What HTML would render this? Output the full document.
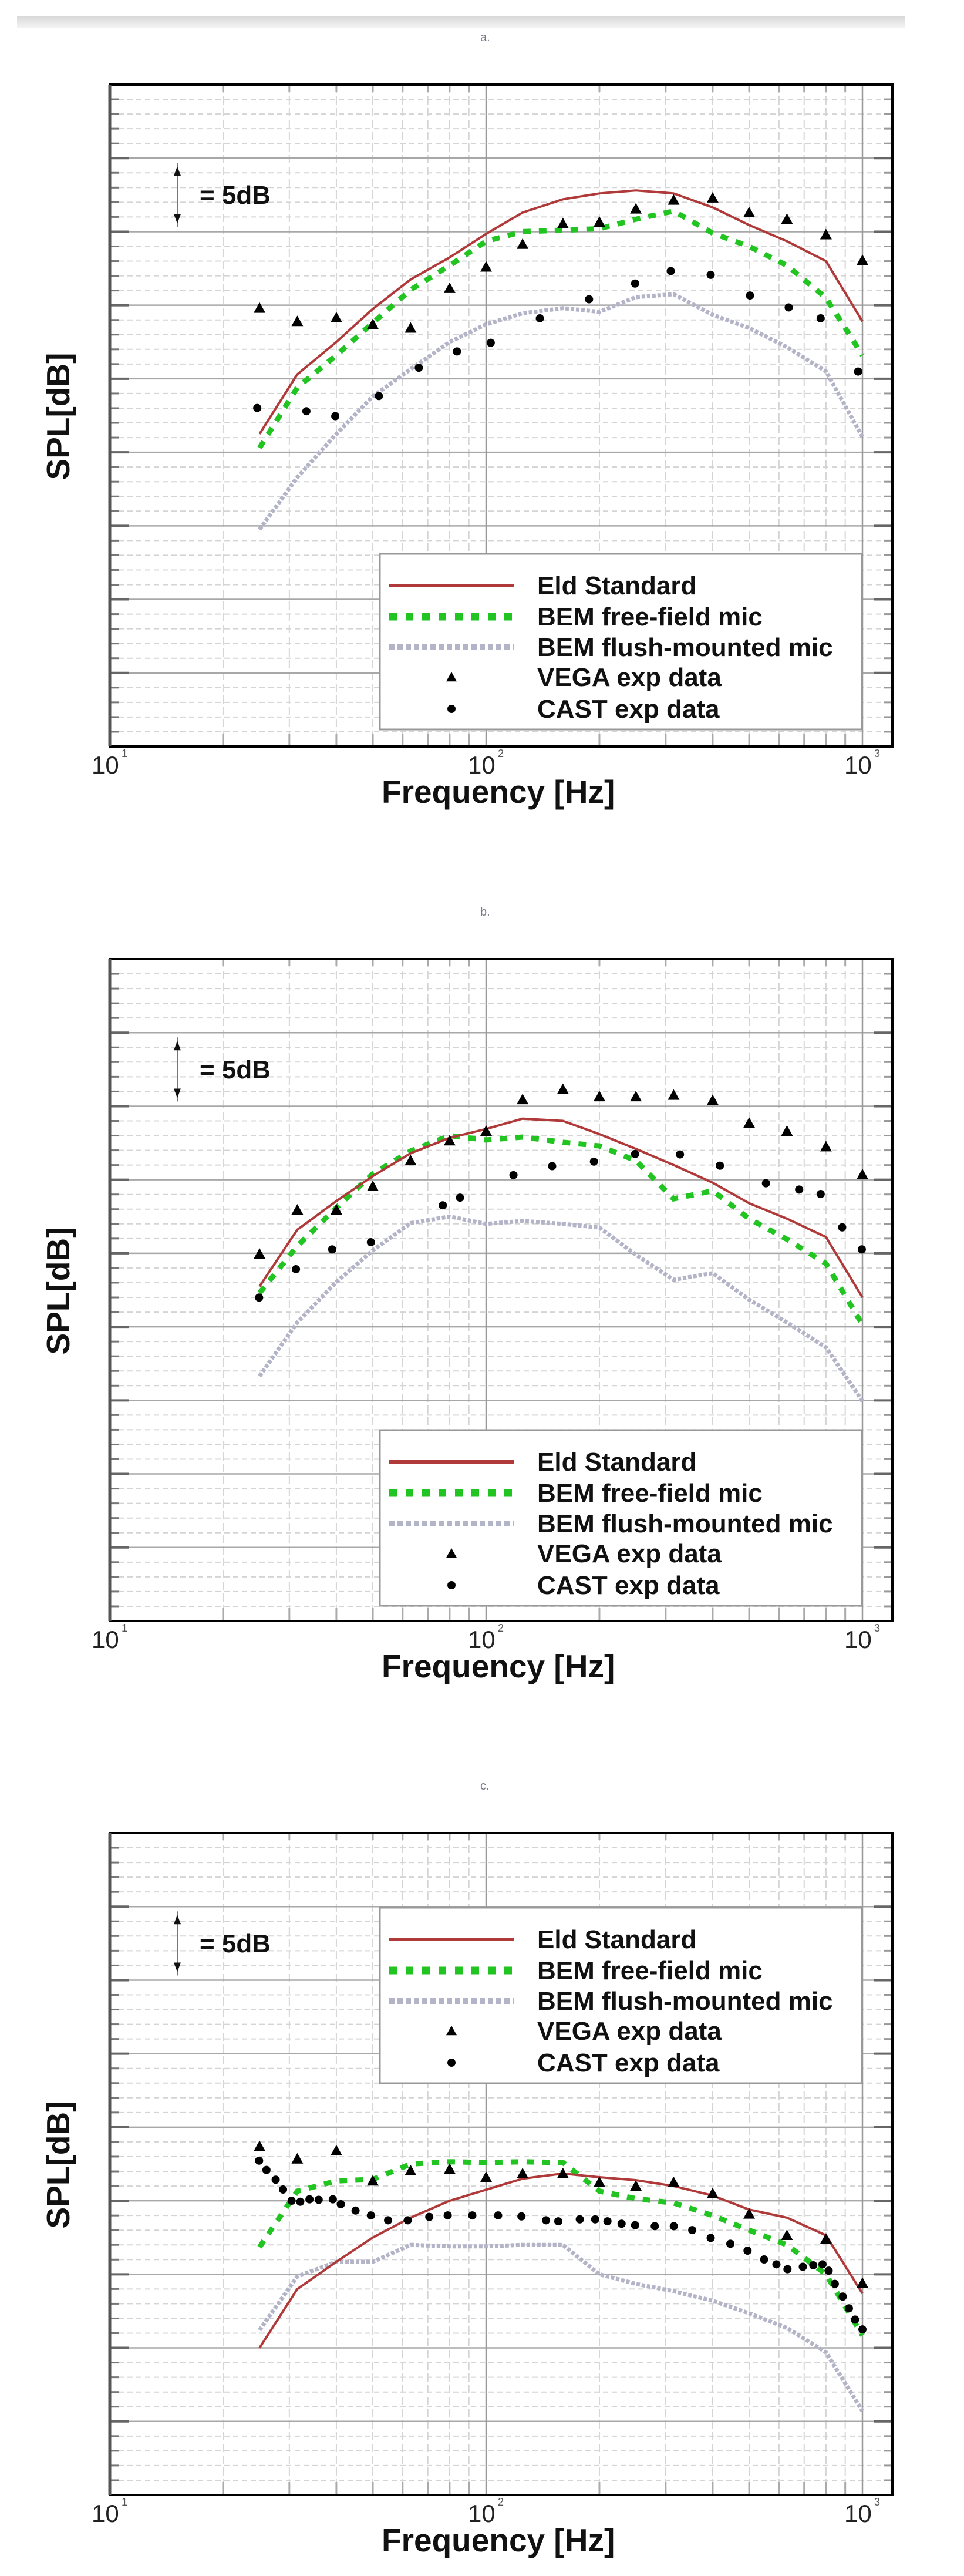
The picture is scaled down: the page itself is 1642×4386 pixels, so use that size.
<!DOCTYPE html>
<html><head><meta charset="utf-8">
<style>
html,body{margin:0;padding:0;background:#fff;}
svg{display:block;}
text{font-family:"Liberation Sans",Arial,sans-serif;}
.b{font-weight:bold;fill:#111;}
</style></head>
<body>
<svg id="s" width="1642" height="4386" viewBox="0 0 1642 4386" xmlns="http://www.w3.org/2000/svg">
<defs><linearGradient id="gb" x1="0" y1="0" x2="0" y2="1"><stop offset="0" stop-color="#d8d8d8"/><stop offset="1" stop-color="#f3f3f3"/></linearGradient></defs>
<rect x="29" y="27" width="1513" height="20" fill="url(#gb)"/>
<g id="grids"></g>
<g id="data"></g>
<!-- labels chart a -->
<text x="818" y="70" font-size="20" fill="#778" font-family="Liberation Serif,serif">a.</text>
<text x="818" y="1559" font-size="20" fill="#778" font-family="Liberation Serif,serif">b.</text>
<text x="818" y="3047" font-size="20" fill="#778" font-family="Liberation Serif,serif">c.</text>

<g id="lab_a" transform="translate(0,144)">
<text x="340" y="203" font-size="44" class="b">= 5dB</text>
<text x="156" y="1173" font-size="42" fill="#222">10</text><text x="207" y="1145" font-size="18" fill="#555">1</text>
<text x="797" y="1173" font-size="42" fill="#222">10</text><text x="848" y="1145" font-size="18" fill="#555">2</text>
<text x="1438" y="1173" font-size="42" fill="#222">10</text><text x="1489" y="1145" font-size="18" fill="#555">3</text>
<text x="650" y="1223" font-size="55" class="b">Frequency [Hz]</text>
<text transform="translate(118,565) rotate(-90)" text-anchor="middle" font-size="55" class="b">SPL[dB]</text>
</g>
<g id="lab_b" transform="translate(0,1633)">
<text x="340" y="203" font-size="44" class="b">= 5dB</text>
<text x="156" y="1173" font-size="42" fill="#222">10</text><text x="207" y="1145" font-size="18" fill="#555">1</text>
<text x="797" y="1173" font-size="42" fill="#222">10</text><text x="848" y="1145" font-size="18" fill="#555">2</text>
<text x="1438" y="1173" font-size="42" fill="#222">10</text><text x="1489" y="1145" font-size="18" fill="#555">3</text>
<text x="650" y="1223" font-size="55" class="b">Frequency [Hz]</text>
<text transform="translate(118,565) rotate(-90)" text-anchor="middle" font-size="55" class="b">SPL[dB]</text>
</g>
<g id="lab_c" transform="translate(0,3121)">
<text x="340" y="203" font-size="44" class="b">= 5dB</text>
<text x="156" y="1173" font-size="42" fill="#222">10</text><text x="207" y="1145" font-size="18" fill="#555">1</text>
<text x="797" y="1173" font-size="42" fill="#222">10</text><text x="848" y="1145" font-size="18" fill="#555">2</text>
<text x="1438" y="1173" font-size="42" fill="#222">10</text><text x="1489" y="1145" font-size="18" fill="#555">3</text>
<text x="650" y="1223" font-size="55" class="b">Frequency [Hz]</text>
<text transform="translate(118,565) rotate(-90)" text-anchor="middle" font-size="55" class="b">SPL[dB]</text>
</g>
<g id="legends"></g>
<g id="legtext">
<g transform="translate(0,943)">
<text x="915" y="69" font-size="44" class="b">Eld Standard</text>
<text x="915" y="122" font-size="44" class="b">BEM free-field mic</text>
<text x="915" y="174" font-size="44" class="b">BEM flush-mounted mic</text>
<text x="915" y="225" font-size="44" class="b">VEGA exp data</text>
<text x="915" y="279" font-size="44" class="b">CAST exp data</text>
</g>
<g transform="translate(0,2435)">
<text x="915" y="69" font-size="44" class="b">Eld Standard</text>
<text x="915" y="122" font-size="44" class="b">BEM free-field mic</text>
<text x="915" y="174" font-size="44" class="b">BEM flush-mounted mic</text>
<text x="915" y="225" font-size="44" class="b">VEGA exp data</text>
<text x="915" y="279" font-size="44" class="b">CAST exp data</text>
</g>
<g transform="translate(0,3248)">
<text x="915" y="69" font-size="44" class="b">Eld Standard</text>
<text x="915" y="122" font-size="44" class="b">BEM free-field mic</text>
<text x="915" y="174" font-size="44" class="b">BEM flush-mounted mic</text>
<text x="915" y="225" font-size="44" class="b">VEGA exp data</text>
<text x="915" y="279" font-size="44" class="b">CAST exp data</text>
</g>
</g>
</svg>
<script>
(function(){
var NS="http://www.w3.org/2000/svg";
function el(p,t,a){var e=document.createElementNS(NS,t);for(var k in a)e.setAttribute(k,a[k]);p.appendChild(e);return e;}
var grids=document.getElementById('grids'),data=document.getElementById('data'),legs=document.getElementById('legends');
var L=187,R=1520,H=1127,MJ=H/9;
function X(lf){return L+(lf-1)*641;}
var tops=[144,1633,3121];
var fr=[25,31.5,40,50,63,80,100,125,160,200,250,315,400,500,630,800,1000];
function drawGrid(T){
  var g=el(grids,'g',{});
  // minor horizontals
  for(var i=0;i<45;i++){var y=T+i*H/45; if(i%5==0)continue;
    el(g,'line',{x1:L,x2:R,y1:y,y2:y,stroke:'#d4d4d4','stroke-width':2,'stroke-dasharray':'9 6'});
    el(g,'line',{x1:L,x2:L+15,y1:y,y2:y,stroke:'#777','stroke-width':3});
    el(g,'line',{x1:R-15,x2:R,y1:y,y2:y,stroke:'#999','stroke-width':3});}
  // minor verticals
  [2,3,4,5,6,7,8,9,20,30,40,50,60,70,80,90,200,300,400,500,600,700,800,900].forEach(function(f){
    var lf=Math.log10(f*10);if(f<10)lf=Math.log10(f*10);
    var x=X(f<10?Math.log10(f*10):Math.log10(f*10));
  });
  var mins=[20,30,40,50,60,70,80,90,200,300,400,500,600,700,800,900];
  mins.forEach(function(f){var x=X(Math.log10(f));
    el(g,'line',{x1:x,x2:x,y1:T,y2:T+H,stroke:'#d4d4d4','stroke-width':2,'stroke-dasharray':'14 6'});
    el(g,'line',{x1:x,x2:x,y1:T+H-22,y2:T+H,stroke:'#aaa','stroke-width':3});
    el(g,'line',{x1:x,x2:x,y1:T,y2:T+12,stroke:'#aaa','stroke-width':3});});
  for(var i=1;i<9;i++){var y=T+i*MJ;
    el(g,'line',{x1:L,x2:R,y1:y,y2:y,stroke:'#a8a8a8','stroke-width':2.5});
    el(g,'line',{x1:L,x2:L+32,y1:y,y2:y,stroke:'#666','stroke-width':4});
    el(g,'line',{x1:R-32,x2:R,y1:y,y2:y,stroke:'#666','stroke-width':4});}
  [X(2),X(3)].forEach(function(x){el(g,'line',{x1:x,x2:x,y1:T,y2:T+H,stroke:'#999','stroke-width':2.5});});
  el(g,'rect',{x:L,y:T,width:R-L,height:H,fill:'none',stroke:'#000','stroke-width':4});
  el(g,'line',{x1:L,x2:L,y1:T,y2:T+H,stroke:'#555','stroke-width':5});
  // 5dB arrow
  el(g,'line',{x1:302,x2:302,y1:T+MJ+8,y2:T+2*MJ-8,stroke:'#777','stroke-width':2});
  el(g,'path',{d:'M296 '+(T+MJ+30)+' L302 '+(T+MJ+14)+' L308 '+(T+MJ+30)+'Z',fill:'#111'});
  el(g,'path',{d:'M296 '+(T+2*MJ-30)+' L302 '+(T+2*MJ-14)+' L308 '+(T+2*MJ-30)+'Z',fill:'#111'});
}
tops.forEach(drawGrid);
var styles={
 red:{stroke:'#b03a3a','stroke-width':4,fill:'none'},
 green:{stroke:'#22c422','stroke-width':9,fill:'none','stroke-dasharray':'13 14'},
 grey:{stroke:'#b4b4c8','stroke-width':7,fill:'none','stroke-dasharray':'6 3'}
};
function line(T,vals,st){var d='';vals.forEach(function(v,i){d+=(i?'L':'M')+X(Math.log10(fr[i])).toFixed(1)+' '+(T+v*MJ).toFixed(1);});el(data,'path',Object.assign({d:d},styles[st]));}
function tri(x,y,s){s=s||10;el(data,'path',{d:'M'+(x-s)+' '+(y+s*0.8)+' L'+x+' '+(y-s)+' L'+(x+s)+' '+(y+s*0.8)+'Z',fill:'#000'});}
function dot(x,y){el(data,'circle',{cx:x,cy:y,r:7,fill:'#000'});}
function vega(T,vals){vals.forEach(function(v,i){tri(X(Math.log10(fr[i])),T+v*MJ);});}
function castZ(T,pts,x0,s,z0,sp){pts.forEach(function(p){var lf=1+(p[0]-180)/612.5;dot(X(lf),T+(p[1]-z0)/sp*MJ);});}
// chart a
var T=tops[0];
line(T,[6.05,5.34,4.75,4.24,3.87,3.50,3.26,3.11,3.04,3.09,2.89,2.85,3.13,3.31,3.57,3.90,4.79],'grey');
line(T,[4.94,4.12,3.68,3.24,2.79,2.46,2.13,2.00,1.98,1.96,1.83,1.72,2.02,2.20,2.46,2.90,3.68],'green');
line(T,[4.75,3.94,3.50,3.05,2.65,2.35,2.03,1.74,1.56,1.48,1.44,1.48,1.67,1.91,2.13,2.40,3.22],'red');
vega(T,[3.04,3.22,3.17,3.26,3.31,2.77,2.48,2.17,1.89,1.87,1.69,1.57,1.54,1.74,1.83,2.04,2.39]);
castZ(T,[[420,752],[500,758],[547,767],[618,730],[683,678],[745,648],[800,632],[880,587],[960,552],[1035,523],[1093,500],[1158,507],[1222,545],[1285,567],[1337,587],[1398,685]],0,0,157,135.3);
// chart b
T=tops[1];
line(T,[5.67,4.94,4.39,3.96,3.59,3.50,3.60,3.56,3.60,3.65,4.02,4.36,4.27,4.63,4.94,5.28,6.01],'grey');
line(T,[4.54,3.90,3.38,2.92,2.61,2.40,2.46,2.42,2.49,2.54,2.74,3.26,3.15,3.53,3.81,4.14,4.97],'green');
line(T,[4.45,3.68,3.29,2.95,2.64,2.43,2.31,2.17,2.20,2.38,2.58,2.80,3.04,3.32,3.53,3.78,4.60],'red');
vega(T,[4.01,3.41,3.41,3.09,2.74,2.47,2.34,1.91,1.77,1.87,1.87,1.85,1.92,2.23,2.34,2.55,2.93]);
castZ(T,[[423,795],[483,732],[542,688],[605,672],[722,590],[750,573],[837,523],[900,503],[968,493],[1035,476],[1108,477],[1173,502],[1248,541],[1302,555],[1337,565],[1372,639],[1404,688]],0,0,43,163.4);
// chart c
T=tops[2];
line(T,[6.76,6.03,5.83,5.83,5.60,5.62,5.62,5.60,5.60,6.0,6.13,6.23,6.36,6.53,6.73,7.06,7.86],'grey');
line(T,[5.63,4.87,4.73,4.71,4.50,4.47,4.48,4.47,4.48,4.87,4.97,5.03,5.20,5.40,5.60,6.0,6.83],'green');
line(T,[7.0,6.20,5.83,5.50,5.23,5.0,4.85,4.70,4.63,4.68,4.72,4.80,4.93,5.12,5.23,5.47,6.26],'red');
vega(T,[4.26,4.43,4.32,4.73,4.59,4.57,4.68,4.63,4.63,4.75,4.80,4.75,4.90,5.18,5.47,5.52,6.12]);
castZ(T,[[423,718],[435,737],[450,757],[462,777],[476,800],[490,802],[505,797],[520,798],[543,797],[556,807],[580,820],[605,830],[633,840],[665,840],[700,833],[730,830],[770,830],[812,830],[850,832],[890,840],[910,842],[945,838],[970,838],[990,842],[1013,847],[1035,850],[1067,852],[1098,852],[1128,860],[1158,876],[1190,888],[1218,902],[1245,920],[1265,930],[1283,940],[1308,935],[1325,932],[1340,930],[1350,943],[1360,970],[1373,996],[1383,1020],[1393,1043],[1405,1063]],0,0,48,150.4);
// legends
[943,2435,3248].forEach(function(y0){
  el(legs,'rect',{x:647,y:y0,width:821,height:299,fill:'#fff',stroke:'#999','stroke-width':3});
  el(legs,'line',{x1:663,x2:875,y1:y0+54,y2:y0+54,stroke:'#b03a3a','stroke-width':6});
  el(legs,'line',{x1:663,x2:875,y1:y0+107,y2:y0+107,stroke:'#22c422','stroke-width':13,'stroke-dasharray':'13 15'});
  el(legs,'line',{x1:663,x2:875,y1:y0+159,y2:y0+159,stroke:'#b4b4c8','stroke-width':10,'stroke-dasharray':'9 5'});
  var s=9;el(legs,'path',{d:'M'+(769-s)+' '+(y0+210+s*0.8)+' L769 '+(y0+210-s)+' L'+(769+s)+' '+(y0+210+s*0.8)+'Z',fill:'#000'});
  el(legs,'circle',{cx:769,cy:y0+264,r:7,fill:'#000'});
});
})();
</script>
</body></html>
